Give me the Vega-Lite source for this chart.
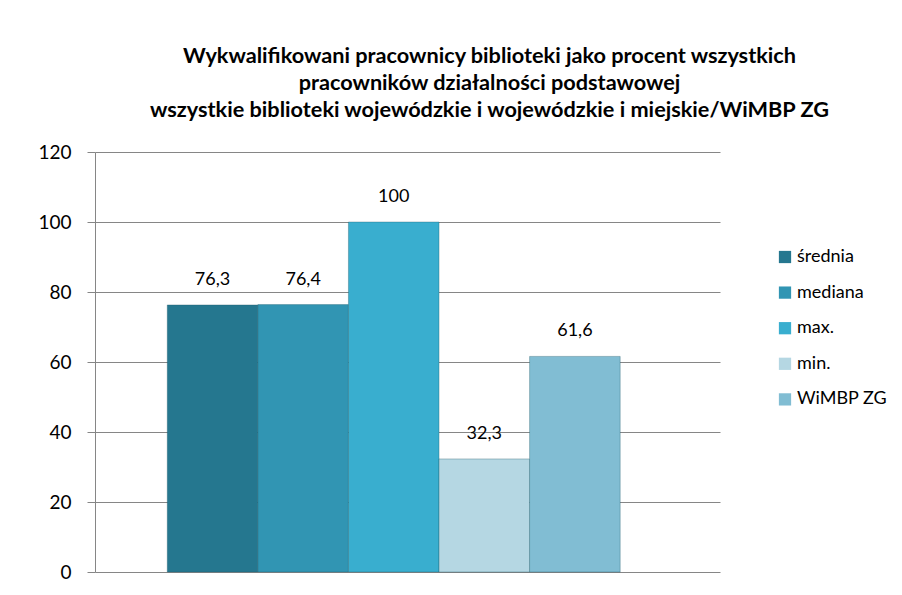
{
  "$schema": "https://vega.github.io/schema/vega-lite/v6.json",
  "width": 625,
  "height": 420,
  "autosize": {"type": "none"},
  "padding": {"left": 95, "top": 152, "right": 182, "bottom": 23},
  "background": "white",
  "title": {
    "text": ["Wykwalifikowani pracownicy biblioteki jako procent wszystkich", "pracowników działalności podstawowej", "wszystkie biblioteki wojewódzkie i wojewódzkie i miejskie/WiMBP ZG"],
    "font": "Lato",
    "fontSize": 21.7,
    "fontWeight": "bold",
    "color": "#000000",
    "lineHeight": 27,
    "anchor": "middle",
    "dx": 82,
    "offset": 21
  },
  "data": {
    "values": [
      {"series": "średnia", "value": 76.3},
      {"series": "mediana", "value": 76.4},
      {"series": "max.", "value": 100},
      {"series": "min.", "value": 32.3},
      {"series": "WiMBP ZG", "value": 61.6}
    ]
  },
  "encoding": {
    "x": {
      "field": "series",
      "type": "nominal",
      "sort": ["średnia", "mediana", "max.", "min.", "WiMBP ZG"],
      "axis": null,
      "scale": {"paddingInner": 0, "paddingOuter": 0.95, "align": 0.42}
    },
    "y": {
      "field": "value",
      "type": "quantitative",
      "scale": {"domain": [0, 120]},
      "axis": {
        "title": null,
        "values": [0, 20, 40, 60, 80, 100, 120],
        "grid": true,
        "gridColor": "#868686",
        "gridOpacity": 1,
        "domainColor": "#868686",
        "tickColor": "#868686",
        "tickSize": 8,
        "labelPadding": 16,
        "labelFont": "Lato",
        "labelFontSize": 19,
        "labelColor": "#000000"
      }
    }
  },
  "layer": [
    {
      "mark": {"type": "bar", "stroke": "#1f5868", "strokeOpacity": 0.35, "strokeWidth": 1},
      "encoding": {
        "color": {
          "field": "series",
          "type": "nominal",
          "sort": ["średnia", "mediana", "max.", "min.", "WiMBP ZG"],
          "scale": {
            "domain": ["średnia", "mediana", "max.", "min.", "WiMBP ZG"],
            "range": ["#25778f", "#3195b3", "#39aecf", "#b5d7e3", "#81bdd3"]
          },
          "legend": {
            "title": null,
            "orient": "none",
            "legendX": 681,
            "legendY": 96,
            "symbolType": "square",
            "symbolSize": 150,
            "symbolStrokeWidth": 0,
            "labelFont": "Lato",
            "labelFontSize": 18,
            "labelColor": "#000000",
            "rowPadding": 17.6,
            "labelOffset": 3
          }
        }
      }
    },
    {
      "mark": {"type": "text", "baseline": "alphabetic", "dy": -20, "font": "Lato", "fontSize": 18, "color": "#000000"},
      "encoding": {
        "text": {"field": "value", "type": "quantitative", "format": "~g"}
      }
    }
  ],
  "config": {
    "view": {"stroke": null},
    "locale": {
      "number": {"decimal": ",", "thousands": " ", "grouping": [3], "currency": ["", " zł"]}
    }
  }
}
